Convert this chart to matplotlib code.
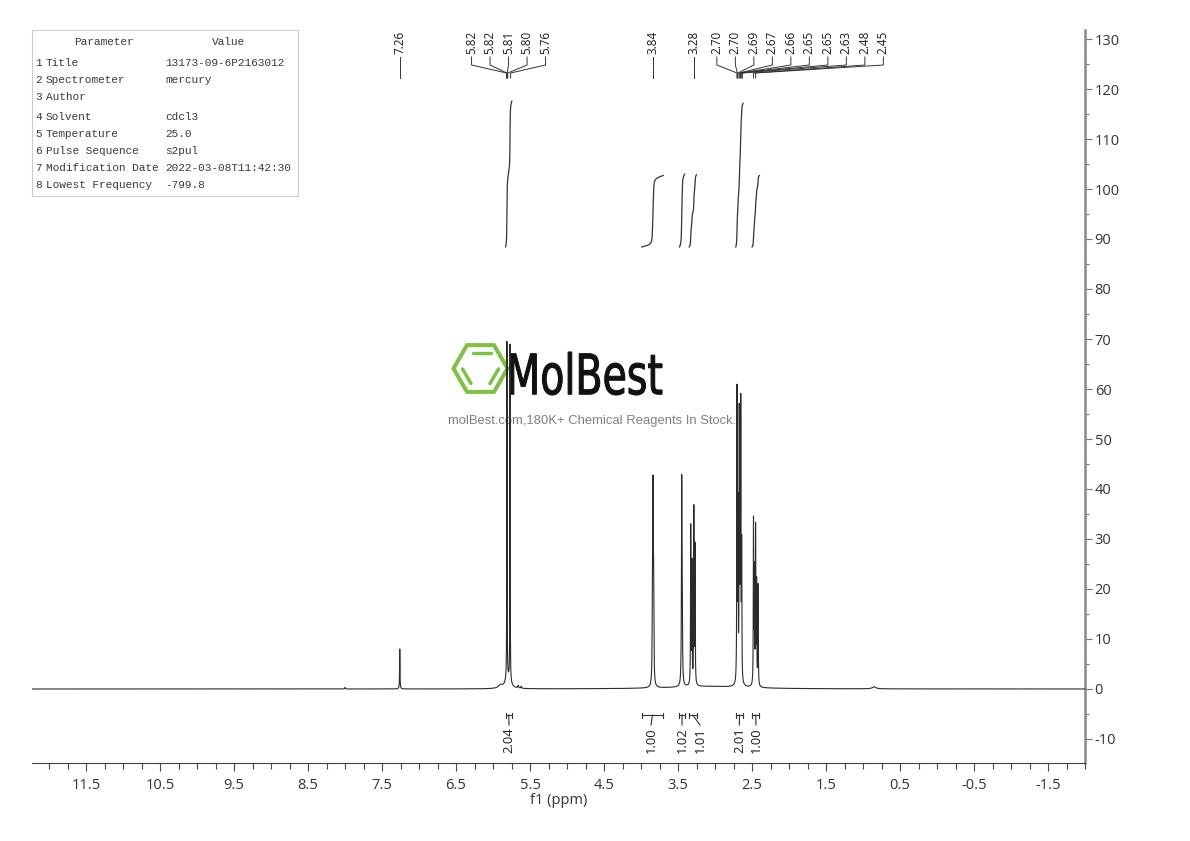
import numpy as np
import matplotlib.pyplot as plt
from matplotlib.lines import Line2D
from matplotlib.patches import RegularPolygon, Rectangle, PathPatch
from matplotlib.textpath import TextPath
from matplotlib.font_manager import FontProperties
from matplotlib.transforms import Affine2D, IdentityTransform

plt.rcParams["axes.unicode_minus"] = False
W, H = 1190, 841

# acquisition parameters (table, top left)
param_names = ["Title", "Spectrometer", "Author", "Solvent", "Temperature",
               "Pulse Sequence", "Modification Date", "Lowest Frequency"]
param_values = ["13173-09-6P2163012", "mercury", "", "cdcl3", "25.0",
                "s2pul", "2022-03-08T11:42:30", "-799.8"]

# peaks: position (ppm), height, half width (ppm)
peak_ppm = [8.00, 7.260, 5.90, 5.812, 5.770, 5.80, 5.66, 5.62,
            3.846, 3.838, 3.830, 3.450, 3.443,
            3.328, 3.312, 3.286, 3.270,
            2.703, 2.690, 2.672, 2.660, 2.652, 2.640,
            2.480, 2.468, 2.452, 2.438, 2.418,
            3.10, 0.85]
peak_height = [0.3, 8.0, 0.6, 67.5, 67.5, 2.0, 0.5, 0.4,
               15.0, 36.0, 18.0, 39.0, 14.0,
               31.5, 24.0, 35.0, 27.5,
               58.0, 34.0, 52.0, 34.0, 51.5, 26.0,
               32.5, 22.0, 31.0, 20.0, 20.0,
               0.5, 0.4]
peak_hw = [0.005, 0.003, 0.03, 0.0022, 0.0022, 0.04, 0.006, 0.006,
           0.004, 0.004, 0.004, 0.004, 0.004,
           0.003, 0.003, 0.003, 0.003,
           0.003, 0.003, 0.003, 0.003, 0.003, 0.003,
           0.003, 0.003, 0.003, 0.003, 0.003,
           0.6, 0.03]

# peak picking labels
pick_labels = ["7.26", "5.82", "5.82", "5.81", "5.80", "5.76", "3.84", "3.28",
               "2.70", "2.70", "2.69", "2.67", "2.66", "2.65", "2.65", "2.63",
               "2.48", "2.45"]
pick_ppm = [7.260, 5.818, 5.815, 5.808, 5.800, 5.762, 3.838, 3.284,
            2.703, 2.698, 2.690, 2.672, 2.660, 2.652, 2.646, 2.630,
            2.480, 2.452]

# integrals
integral_values = [2.04, 1.00, 1.02, 1.01, 2.01, 1.00]
integral_from = [5.83, 3.99, 3.48, 3.35, 2.72, 2.50]
integral_to = [5.745, 3.70, 3.41, 3.25, 2.62, 2.40]

# ---- spectrum from the peak list
ppm = np.linspace(12.23, -2.0, 40001)
spec = np.zeros_like(ppm)
for p, h, w in zip(peak_ppm, peak_height, peak_hw):
    spec += h / (1 + ((ppm - p) / w) ** 2)

fig = plt.figure(figsize=(W / 100, H / 100), dpi=100)
ax = fig.add_axes([32 / W, (H - 763) / H, (1085 - 32) / W, (763 - 30) / H])
ax.patch.set_visible(False)

ax.plot(ppm, spec, color="#2b2b2b", lw=0.8, zorder=3)

# integral curves
for val, hi, lo in zip(integral_values, integral_from, integral_to):
    sel = (ppm <= hi) & (ppm >= lo)
    cum = np.cumsum(spec[sel])
    cum = cum / cum[-1]
    ax.plot(ppm[sel], 88.4 + val * 14.3 * cum, color="#333333", lw=0.9,
            zorder=3)

# integral labels under the baseline
int_label_pos = [5.784, 3.865, 3.446, 3.203, 2.671, 2.446]
yb = -5.2
for val, hi, lo, xl in zip(integral_values, integral_from, integral_to,
                           int_label_pos):
    kw = dict(color="#333333", lw=0.8, clip_on=False)
    mid = (hi + lo) / 2
    ax.plot([hi, lo], [yb, yb], **kw)
    ax.plot([hi, hi], [yb - 0.5, yb + 0.5], **kw)
    ax.plot([lo, lo], [yb - 0.5, yb + 0.5], **kw)
    ax.plot([mid, xl], [yb, -7.2], **kw)
    ax.text(xl, -7.6, "%.2f" % val, rotation=90, ha="center", va="top",
            fontsize=9.3, family="Open Sans", color="#1a1a1a")

# peak pick labels on top, spread in groups
groups = [(0, 1, 7.26), (1, 6, 6.29), (6, 7, 3.838), (7, 8, 3.284),
          (8, 18, 2.975)]
for i0, i1, start in groups:
    for k, i in enumerate(range(i0, i1)):
        xl = start - k * 0.25
        xp = pick_ppm[i]
        ax.text(xl, 127.0, pick_labels[i], rotation=90, ha="center",
                va="bottom", fontsize=8.4, family="Open Sans",
                color="#1a1a1a", clip_on=False)
        ax.plot([xl, xl, xp, xp], [126.4, 124.8, 123.2, 122.2],
                color="#333333", lw=0.7, clip_on=False)

ax.set_xlim(12.23, -2.0)
ax.set_ylim(-14.8, 131.8)

for s in ["top", "left"]:
    ax.spines[s].set_visible(False)
ax.spines["bottom"].set_color("#444444")
ax.spines["right"].set_color("#888888")
ax.spines["right"].set_linewidth(1.8)

ax.set_xticks(np.arange(-1.5, 12.0, 1.0))
ax.set_xticklabels(["%.1f" % v for v in np.arange(-1.5, 12.0, 1.0)])
ax.set_xticks(np.arange(-2.0, 12.1, 0.25), minor=True)
ax.yaxis.tick_right()
ax.set_yticks(np.arange(-10, 131, 10))
ax.set_yticks(np.arange(-10, 131, 5), minor=True)
ax.tick_params(axis="x", which="major", length=6, width=0.8,
               color="#444444", labelsize=10.5, labelcolor="#333333", pad=5)
ax.tick_params(axis="x", which="minor", length=4, width=0.8, color="#444444")
ax.tick_params(axis="y", which="major", length=5, width=0.8,
               color="#777777", labelsize=10.5, labelcolor="#333333", pad=2)
ax.tick_params(axis="y", which="minor", length=3, width=0.8, color="#777777")
for t in ax.get_xticklabels() + ax.get_yticklabels():
    t.set_family("Open Sans")
ax.set_xlabel("f1 (ppm)", fontsize=10.5, family="Open Sans", color="#333333",
              labelpad=0)


def fx(x):
    return x / W


def fy(y):
    return 1 - y / H


# parameter table
fig.add_artist(Rectangle((fx(32), fy(196)), fx(298) - fx(32), fy(30) - fy(196),
                         transform=fig.transFigure, fill=False,
                         edgecolor="#cccccc", lw=0.8))
tkw = dict(family="Liberation Mono", fontsize=8, color="#3a3a3a", va="center")
fig.text(fx(104), fy(42), "Parameter", ha="center", **tkw)
fig.text(fx(229), fy(42), "Value", ha="center", **tkw)
row_y = [63, 80, 97, 117, 134, 151, 168, 185]
for n, (name, value, y) in enumerate(zip(param_names, param_values, row_y)):
    fig.text(fx(35), fy(y), str(n + 1), ha="left", **tkw)
    fig.text(fx(46), fy(y), name, ha="left", **tkw)
    fig.text(fx(165), fy(y), value, ha="left", **tkw)

# MolBest watermark (behind the spectrum)
green = "#7cc142"
fig.add_artist(RegularPolygon((480.5, H - 368.5), 6, radius=27,
                              orientation=np.pi / 6, fill=False,
                              edgecolor=green, lw=2.9,
                              transform=IdentityTransform(), zorder=-1))
for xs, ys in [([472.5, 490.5], [353, 353]),
               ([462.5, 471], [369, 383.5]),
               ([490, 498.5], [383.5, 369])]:
    fig.add_artist(Line2D(xs, [H - v for v in ys], color=green, lw=2.5,
                          solid_capstyle="round",
                          transform=IdentityTransform(), zorder=-1))
tp = TextPath((0, 0), "MolBest", size=100,
              prop=FontProperties(family="DejaVu Sans"))
ext = tp.get_extents()
tr = (Affine2D().translate(-ext.x0, -ext.y0)
      .scale(152 / ext.width, 43 / ext.height)
      .translate(510, H - 395))
fig.add_artist(PathPatch(tp, transform=tr, facecolor="#111111",
                         edgecolor="#111111", lw=0.8, zorder=-1))
fig.text(fx(448), fy(421), "molBest.com,180K+ Chemical Reagents In Stock.",
         family="Liberation Sans", fontsize=9.4, color="#808080", ha="left",
         va="center", zorder=-1)

fig.savefig("out.png", dpi=100)
